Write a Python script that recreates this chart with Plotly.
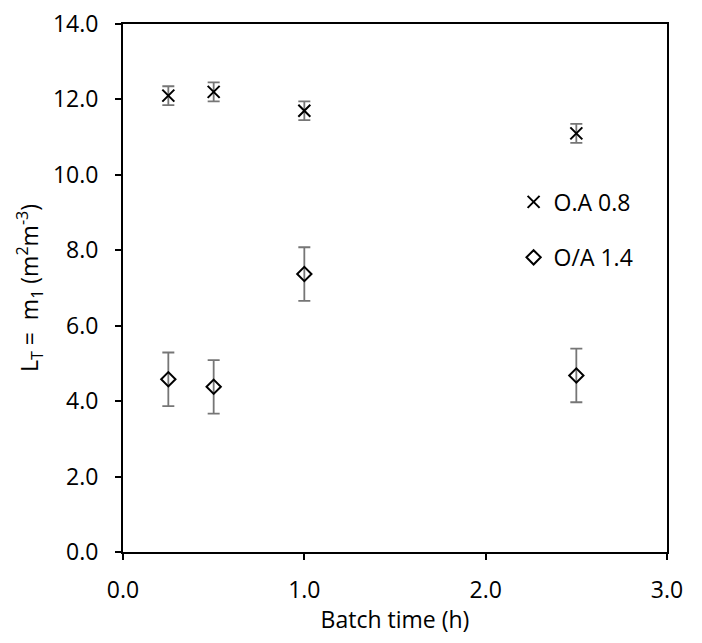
import plotly.graph_objects as go

# Batch time (h)
batch_time = [0.25, 0.5, 1.0, 2.5]

# Interfacial area per unit volume, two organic/aqueous ratios
oa_08 = [12.1, 12.2, 11.7, 11.1]
oa_08_err = [0.25, 0.25, 0.25, 0.25]

oa_14 = [4.58, 4.38, 7.37, 4.68]
oa_14_err = [0.71, 0.71, 0.71, 0.71]

series_names = ["O.A 0.8", "O/A 1.4"]

FONT = "Open Sans, Liberation Sans, sans-serif"
FS = 23
ERR_COLOR = "#767676"

fig = go.Figure()

fig.add_trace(go.Scatter(
    x=batch_time, y=oa_08, mode="markers", name=series_names[0],
    marker=dict(symbol="x-thin-open", size=12, color="black",
                line=dict(color="black", width=2)),
    error_y=dict(type="data", array=oa_08_err, color=ERR_COLOR,
                 thickness=1.8, width=6),
    legend="legend",
))

fig.add_trace(go.Scatter(
    x=batch_time, y=oa_14, mode="markers", name=series_names[1],
    marker=dict(symbol="diamond-open", size=11, color="black",
                line=dict(color="black", width=2)),
    error_y=dict(type="data", array=oa_14_err, color=ERR_COLOR,
                 thickness=1.8, width=6),
    legend="legend2",
))

legend_style = dict(
    font=dict(family=FONT, size=FS, color="black"),
    bgcolor="rgba(0,0,0,0)", itemwidth=30,
    xanchor="left", yanchor="middle",
)

fig.update_layout(
    width=702, height=643,
    margin=dict(l=123, r=35, t=24, b=91),
    paper_bgcolor="white", plot_bgcolor="white",
    font=dict(family=FONT, size=FS, color="black"),
    showlegend=True,
    legend=dict(x=0.718, y=0.663, **legend_style),
    legend2=dict(x=0.718, y=0.558, **legend_style),
    xaxis=dict(
        range=[0, 3], tickvals=[0, 1, 2, 3], ticktext=["0.0", "1.0", "2.0", "3.0"],
        ticks="outside", ticklen=6, tickcolor="black", tickwidth=1.5,
        ticklabelstandoff=10, automargin=False,
        showline=True, linecolor="black", linewidth=2, mirror=True,
        showgrid=False, zeroline=False,
        tickfont=dict(family=FONT, size=FS, color="black"),
        title=dict(text="Batch time (h)",
                   font=dict(family=FONT, size=FS, color="black"), standoff=8),
    ),
    yaxis=dict(
        range=[0, 14], tickvals=[0, 2, 4, 6, 8, 10, 12, 14],
        ticktext=["0.0", "2.0", "4.0", "6.0", "8.0", "10.0", "12.0", "14.0"],
        ticks="outside", ticklen=6, tickcolor="black", tickwidth=1.5,
        ticklabelstandoff=12, automargin=False,
        showline=True, linecolor="black", linewidth=2, mirror=True,
        showgrid=False, zeroline=False,
        tickfont=dict(family=FONT, size=FS, color="black"),
        title=dict(text="L<sub>T</sub> =  m<sub>1</sub> (m<sup>2</sup>m<sup>-3</sup>)",
                   font=dict(family=FONT, size=FS, color="black"), standoff=8),
    ),
)

fig.write_html("out.html")
